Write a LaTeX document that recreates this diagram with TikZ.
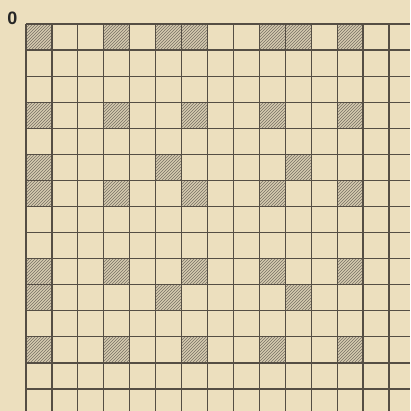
\documentclass[tikz,border=0pt]{standalone}
\usepackage{fontspec}
\setmainfont{Liberation Sans}
\usetikzlibrary{patterns}
\definecolor{paper}{RGB}{236,223,190}
\definecolor{gridline}{RGB}{85,78,68}
\definecolor{hatchbg}{RGB}{214,203,176}
\definecolor{hatchline}{RGB}{120,112,100}
\tikzset{
  gridstroke/.style={draw=gridline, line width=1.2pt},
  hatched/.style={fill=hatchbg},
  hatchlines/.style={pattern=north east lines, pattern color=hatchline},
}
\begin{document}
\begin{tikzpicture}[x=1pt,y=-1pt]
\useasboundingbox (0,0) rectangle (410,411);
\fill[paper] (0,0) rectangle (410,411);
\def\cw{25.93}
\def\ch{26.07}
\foreach \c/\r in {0/0,3/0,5/0,6/0,9/0,10/0,12/0,
                   0/3,3/3,6/3,9/3,12/3,
                   0/5,5/5,10/5,
                   0/6,3/6,6/6,9/6,12/6,
                   0/9,3/9,6/9,9/9,12/9,
                   0/10,5/10,10/10,
                   0/12,3/12,6/12,9/12,12/12}{
  \fill[hatched] ({26+\c*\cw},{24+\r*\ch}) rectangle ({26+(\c+1)*\cw},{24+(\r+1)*\ch});
  \fill[hatchlines] ({26+\c*\cw},{24+\r*\ch}) rectangle ({26+(\c+1)*\cw},{24+(\r+1)*\ch});
}
\foreach \i in {0,...,14}{
  \draw[gridstroke] ({26+\i*\cw},24) -- ({26+\i*\cw},411);
  \draw[gridstroke] (26,{24+\i*\ch}) -- (410,{24+\i*\ch});
}
\node[font=\bfseries\fontsize{18}{18}\selectfont, text=black!85, inner sep=0pt] (zero) at (12.5,18.5) {0};
\end{tikzpicture}
\end{document}
